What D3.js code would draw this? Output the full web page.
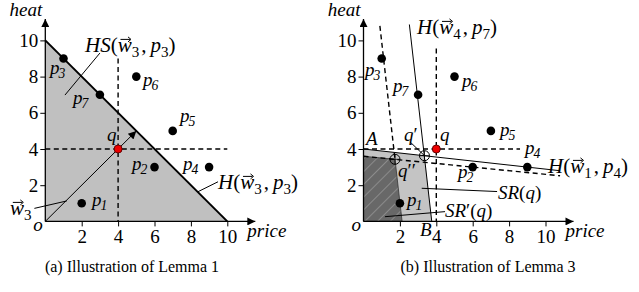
<!DOCTYPE html>
<html><head><meta charset="utf-8">
<script src="https://cdn.jsdelivr.net/npm/d3@7"></script>
<style>
html,body{margin:0;padding:0;background:#fff;}
svg text{font-family:'Liberation Serif','Times New Roman',serif;fill:#000;}
</style></head>
<body>
<svg id="c" width="639" height="292"></svg>
<script>
// ---------- data ----------
const tickValues = [2, 4, 6, 8, 10];
const tickLabels = ["2", "4", "6", "8", "10"];
const pointNames = ["1", "2", "3", "4", "5", "6", "7"];
const priceValues = [2, 6, 1, 9, 7, 5, 3];
const heatValues = [1, 3, 9, 3, 5, 8, 7];
const queryPoint = [4, 4];
const w3ArrowEnd = [5, 5];
// panel (a)
const hsLine = [[0, 10], [10, 0]];
const hsRegion = [[0, 0], [0, 10], [10, 0]];
const aVertDash = [[4, 9], [4, 0]];
const aHorzDash = [[0, 4], [10, 4]];
// panel (b)
const hW4P7 = [[2.52, 10.88], [3.75, 0]];
const hW1P4 = [[0, 4.0], [10.8, 2.8]];
const dashP2 = [[0, 3.6], [10.8, 2.52]];
const dashP3 = [[0.9, 10.8], [1.73, 3.43]];
const qPrime = [3.35, 3.63];
const qDouble = [1.73, 3.43];
const srRegion = [[0, 0], [0, 4.0], [3.35, 3.63], [3.75, 0]];
const srPrimeRegion = [[0, 0], [0, 3.6], [1.73, 3.43], [2.12, 0]];
const bVertDash = [[4, 9.55], [4, 0]];
const bHorzDash = [[0, 4], [8.6, 4]];
const captions = ["(a) Illustration of Lemma 1", "(b) Illustration of Lemma 3"];

// ---------- setup ----------
const svg = d3.select("#c");
const defs = svg.append("defs");
defs.append("marker").attr("id", "ah").attr("viewBox", "0 0 10 10")
  .attr("refX", 10).attr("refY", 5).attr("markerWidth", 11).attr("markerHeight", 8)
  .attr("markerUnits", "userSpaceOnUse").attr("orient", "auto")
  .append("path").attr("d", "M0,0L10,5L0,10Z").attr("fill", "#000");
const pat = defs.append("pattern").attr("id", "hatch").attr("patternUnits", "userSpaceOnUse")
  .attr("width", 9).attr("height", 9).attr("patternTransform", "rotate(45)");
pat.append("rect").attr("width", 9).attr("height", 9).attr("fill", "#686868");
pat.append("line").attr("x1", 0).attr("y1", 0).attr("x2", 0).attr("y2", 9)
  .attr("stroke", "#9a9a9a").attr("stroke-width", 1.4);

const FS = 19;
const data = pointNames.map((n, i) => ({ n, x: priceValues[i], y: heatValues[i] }));

function mathLabel(g, x, y, parts, size) {
  let cx = x;
  parts.forEach(p => {
    const [t, st] = p;
    const sub = st.startsWith("sub");
    const fs = sub ? size * 0.72 : size;
    const ty = sub ? y + size * 0.22 : y;
    const el = g.append("text").attr("x", cx).attr("y", ty).attr("font-size", fs)
      .attr("font-style", (st === "i" || st === "v" || st === "subi") ? "italic" : "normal")
      .text(t);
    const w = el.node().getComputedTextLength();
    if (st === "v") {
      const y0 = y - size * 0.6, x0 = cx + w * 0.2, x1 = cx + w * 0.95;
      g.append("line").attr("x1", x0).attr("y1", y0).attr("x2", x1 - 1).attr("y2", y0)
        .attr("stroke", "#000").attr("stroke-width", 1);
      g.append("path").attr("d", `M${x1 - 3},${y0 - 2.5}L${x1},${y0}L${x1 - 3},${y0 + 2.5}`)
        .attr("fill", "none").attr("stroke", "#000").attr("stroke-width", 1);
    }
    cx += w + (p[2] || 0);
  });
}
function pLabel(g, x, y, n) {
  mathLabel(g, x, y, [["p", "i", -1], [n, "subi"]], FS);
}

function panel(ox, opts) {
  const x = d3.scaleLinear().domain([0, 10]).range([ox, ox + 182]);
  const y = d3.scaleLinear().domain([0, 10]).range([221.4, 40.4]);
  const g = svg.append("g");
  const line = d3.line().x(d => x(d[0])).y(d => y(d[1]));
  opts.draw(g, x, y, line);
  // axes
  const xa = g.append("g").attr("transform", `translate(0,${y(0)})`)
    .call(d3.axisBottom(x).tickValues(tickValues).tickFormat((d, i) => tickLabels[i]).tickSize(5).tickPadding(3));
  const ya = g.append("g").attr("transform", `translate(${x(0)},0)`)
    .call(d3.axisLeft(y).tickValues(tickValues).tickFormat((d, i) => tickLabels[i]).tickSize(5).tickPadding(2));
  [xa, ya].forEach(a => {
    a.attr("font-family", null).attr("font-size", null);
    a.select(".domain").remove();
    a.selectAll("line").attr("stroke", "#000").attr("stroke-width", 1);
    a.selectAll("text").attr("font-size", 19).attr("fill", "#000");
  });
  g.append("line").attr("x1", x(0)).attr("y1", y(0)).attr("x2", x(0) + 210).attr("y2", y(0))
    .attr("stroke", "#000").attr("stroke-width", 1.3).attr("marker-end", "url(#ah)");
  g.append("line").attr("x1", x(0)).attr("y1", y(0)).attr("x2", x(0)).attr("y2", 19)
    .attr("stroke", "#000").attr("stroke-width", 1.3).attr("marker-end", "url(#ah)");
  g.append("text").attr("x", x(0) - 3).attr("y", 16).attr("text-anchor", "end")
    .attr("font-style", "italic").attr("font-size", FS).text("heat");
  g.append("text").attr("x", x(0) + 202).attr("y", 237)
    .attr("font-style", "italic").attr("font-size", FS).text("price");
  g.append("text").attr("x", x(0) - 12).attr("y", 231)
    .attr("font-style", "italic").attr("font-size", FS).text("o");
  // points
  g.selectAll("circle.pt").data(data).join("circle").attr("class", "pt")
    .attr("cx", d => x(d.x)).attr("cy", d => y(d.y)).attr("r", 4.3).attr("fill", "#000");
  opts.after(g, x, y, line);
  return { x, y, g };
}

const dash = "5,3.5";

// ---------- panel (a) ----------
panel(45.3, {
  draw(g, x, y, line) {
    g.append("path").attr("d", line(hsRegion) + "Z").attr("fill", "#c0c0c0");
    g.append("path").attr("d", line(hsLine)).attr("stroke", "#000").attr("stroke-width", 2).attr("fill", "none");
    g.append("path").attr("d", line(aVertDash)).attr("stroke", "#000").attr("stroke-width", 1.4).attr("stroke-dasharray", dash).attr("fill", "none");
    g.append("path").attr("d", line(aHorzDash)).attr("stroke", "#000").attr("stroke-width", 1.4).attr("stroke-dasharray", dash).attr("fill", "none");
    g.append("line").attr("x1", x(0)).attr("y1", y(0)).attr("x2", x(w3ArrowEnd[0])).attr("y2", y(w3ArrowEnd[1]))
      .attr("stroke", "#000").attr("stroke-width", 1).attr("marker-end", "url(#ah)");
    // leaders
    g.append("path").attr("d", line([[1.08, 6.98], [3.0, 9.3]])).attr("stroke", "#000").attr("stroke-width", 1);
    g.append("path").attr("d", line([[-0.6, 0.72], [1.18, 1.13]])).attr("stroke", "#000").attr("stroke-width", 1);
    g.append("path").attr("d", line([[8.39, 1.64], [9.49, 2.19]])).attr("stroke", "#000").attr("stroke-width", 1);
  },
  after(g, x, y) {
    g.append("circle").attr("cx", x(queryPoint[0])).attr("cy", y(queryPoint[1])).attr("r", 4)
      .attr("fill", "#e00").attr("stroke", "#600").attr("stroke-width", 1);
    const off = { "3": [50, 74], "7": [73, 104], "6": [143, 86], "5": [180, 122], "2": [132, 170], "4": [183, 170], "1": [92, 206] };
    Object.entries(off).forEach(([n, p]) => pLabel(g, p[0], p[1], n));
    mathLabel(g, 107, 141, [["q", "i"]], FS);
    mathLabel(g, 85, 52, [["H", "i"], ["S", "i"], ["(", "r"], ["w", "v"], ["3", "sub", 2], [",", "r", 4], ["p", "i"], ["3", "sub"], [")", "r"]], 21);
    mathLabel(g, 218, 189, [["H", "i"], ["(", "r"], ["w", "v"], ["3", "sub", 2], [",", "r", 4], ["p", "i"], ["3", "sub"], [")", "r"]], 21);
    mathLabel(g, 10, 215, [["w", "v"], ["3", "sub"]], 21);
  }
});

// ---------- panel (b) ----------
panel(363.5, {
  draw(g, x, y, line) {
    g.append("path").attr("d", line(srRegion) + "Z").attr("fill", "#c4c4c4");
    g.append("path").attr("d", line(srPrimeRegion) + "Z").attr("fill", "url(#hatch)").attr("stroke", "#333").attr("stroke-width", 0.8);
    g.append("path").attr("d", line(hW4P7)).attr("stroke", "#000").attr("stroke-width", 1).attr("fill", "none");
    g.append("path").attr("d", line(hW1P4)).attr("stroke", "#000").attr("stroke-width", 1).attr("fill", "none");
    [dashP2, dashP3, bVertDash, bHorzDash].forEach(d =>
      g.append("path").attr("d", line(d)).attr("stroke", "#000").attr("stroke-width", 1.4).attr("stroke-dasharray", dash).attr("fill", "none"));
    g.append("path").attr("d", line([[2.55, 4.40], qPrime])).attr("stroke", "#000").attr("stroke-width", 1);
    g.append("path").attr("d", line([[3.2, 1.83], [7.34, 1.65]])).attr("stroke", "#000").attr("stroke-width", 1);
    g.append("path").attr("d", line([[1.18, 0.26], [4.48, 0.54]])).attr("stroke", "#000").attr("stroke-width", 1);
  },
  after(g, x, y) {
    g.append("circle").attr("cx", x(queryPoint[0])).attr("cy", y(queryPoint[1])).attr("r", 4)
      .attr("fill", "#e00").attr("stroke", "#600").attr("stroke-width", 1);
    [qPrime, qDouble].forEach(p => {
      const cx = x(p[0]), cy = y(p[1]);
      g.append("circle").attr("cx", cx).attr("cy", cy).attr("r", 5).attr("fill", "none").attr("stroke", "#000").attr("stroke-width", 1);
      g.append("path").attr("d", `M${cx - 5},${cy}H${cx + 5}M${cx},${cy - 5}V${cy + 5}`).attr("stroke", "#000").attr("stroke-width", 0.8);
    });
    const off = { "3": [365, 76], "7": [393, 92], "6": [462, 87], "5": [500, 136], "2": [458, 178], "4": [525, 154], "1": [407, 206] };
    Object.entries(off).forEach(([n, p]) => pLabel(g, p[0], p[1], n));
    mathLabel(g, 440, 141, [["q", "i"]], FS);
    mathLabel(g, 404, 141, [["q", "i"], ["′", "r"]], FS);
    mathLabel(g, 398, 177, [["q", "i"], ["′′", "r"]], FS);
    mathLabel(g, 366, 145, [["A", "i"]], FS);
    mathLabel(g, 420, 236, [["B", "i"]], FS);
    mathLabel(g, 498, 199, [["SR", "i"], ["(", "r"], ["q", "i"], [")", "r"]], FS);
    mathLabel(g, 445, 217, [["SR", "i"], ["′", "r"], ["(", "r"], ["q", "i"], [")", "r"]], FS);
    mathLabel(g, 417, 34, [["H", "i"], ["(", "r"], ["w", "v"], ["4", "sub", 2], [",", "r", 4], ["p", "i"], ["7", "sub"], [")", "r"]], 21);
    mathLabel(g, 548, 173, [["H", "i"], ["(", "r"], ["w", "v"], ["1", "sub", 2], [",", "r", 4], ["p", "i"], ["4", "sub"], [")", "r"]], 21);
  }
});

// captions
svg.selectAll("text.cap").data(captions).join("text").attr("class", "cap")
  .attr("x", (d, i) => [132, 488][i]).attr("y", 272).attr("text-anchor", "middle")
  .attr("font-size", 16).text(d => d);
</script>
</body></html>
